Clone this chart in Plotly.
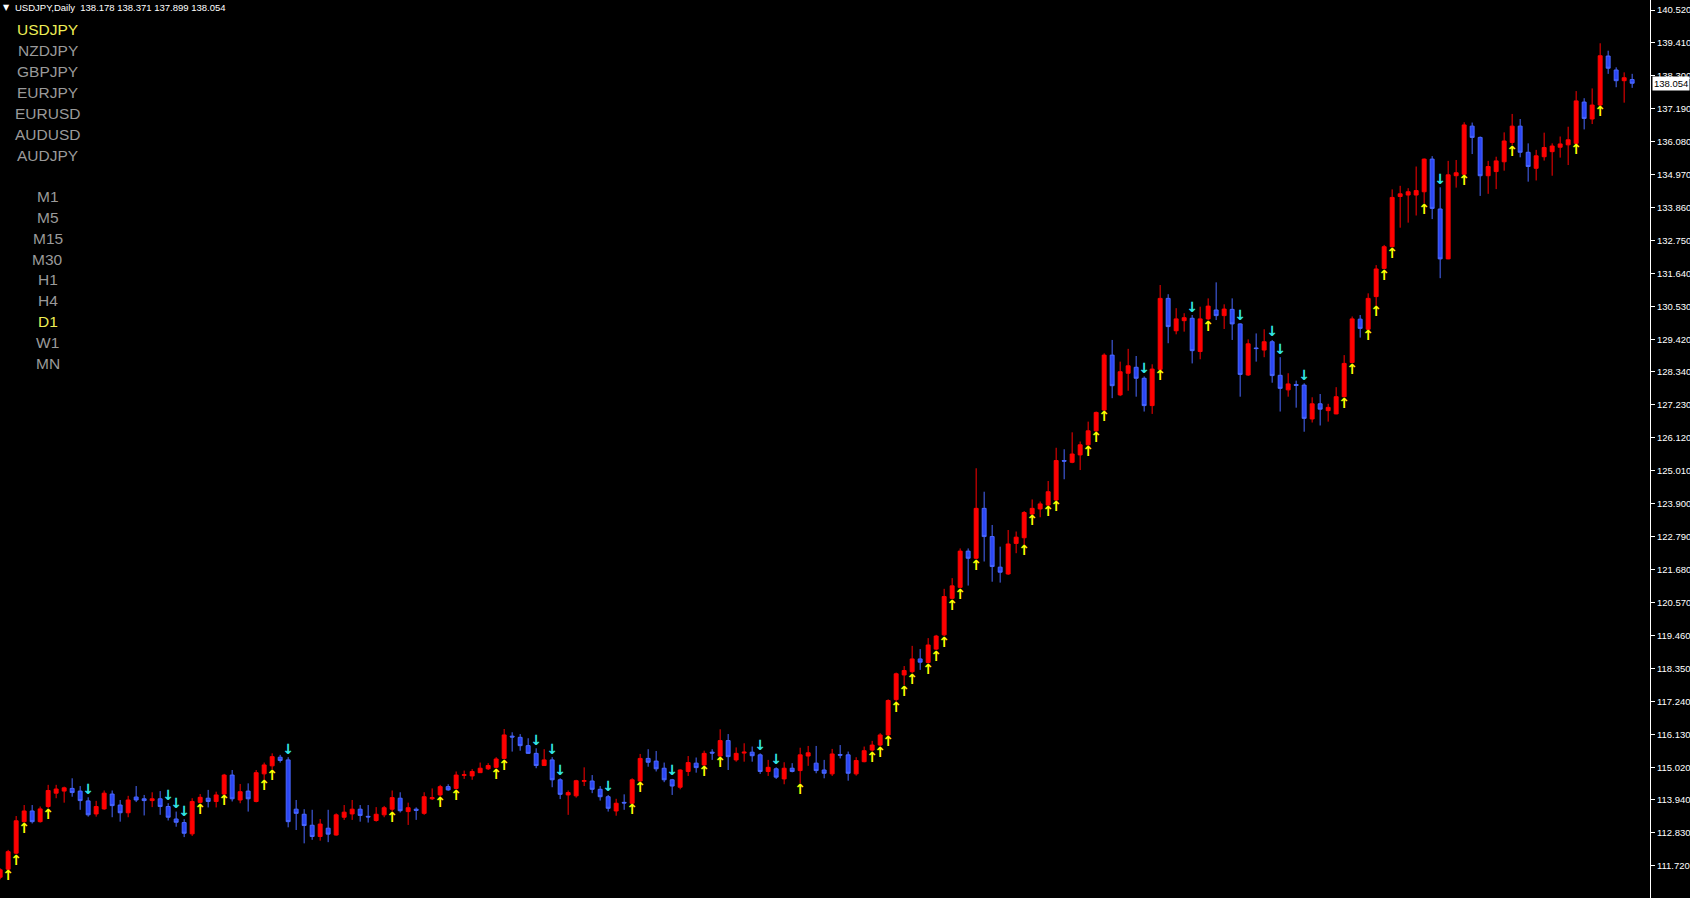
import plotly.graph_objects as go

# ---------------- data (USDJPY, Daily) ----------------
opens = [111.32, 111.59, 112.13, 113.19, 113.55, 113.19, 113.70, 114.15, 114.22, 114.31,
         114.22, 113.89, 113.45, 113.62, 114.12, 113.75, 113.49, 114.02, 113.96, 113.90,
         113.96, 113.70, 113.28, 113.16, 112.78, 113.84, 113.98, 113.87, 114.12, 114.76,
         113.92, 114.22, 113.87, 114.80, 115.07, 115.36, 115.27, 113.61, 113.44, 113.07,
         112.69, 112.97, 112.74, 113.34, 113.45, 113.61, 113.37, 113.23, 113.42, 113.61,
         113.98, 113.53, 113.61, 113.47, 113.96, 114.09, 114.37, 114.31, 114.75, 114.73,
         114.84, 114.97, 115.02, 115.32, 116.07, 116.03, 115.75, 115.49, 115.08, 115.27,
         114.60, 114.09, 114.06, 114.55, 114.56, 114.28, 114.03, 113.55, 113.84, 113.81,
         114.56, 115.32, 115.23, 114.99, 114.60, 114.35, 114.88, 115.16, 115.10, 115.53,
         115.40, 115.92, 115.27, 115.50, 115.53, 115.44, 114.88, 114.97, 114.63, 114.99,
         114.91, 115.40, 115.16, 114.93, 114.80, 115.45, 115.44, 114.80, 115.21, 115.60,
         115.77, 116.11, 117.30, 118.13, 118.24, 118.67, 118.55, 119.00, 119.48, 120.71,
         121.08, 122.30, 122.06, 123.74, 122.79, 121.76, 121.53, 122.56, 122.75, 123.55,
         123.72, 123.85, 124.02, 125.35, 125.29, 125.54, 125.88, 126.35, 127.05, 128.90,
         127.56, 128.29, 128.49, 128.12, 127.20, 128.42, 130.81, 129.72, 130.06, 130.14,
         129.02, 130.12, 130.42, 130.23, 130.44, 129.95, 128.23, 129.14, 129.07, 129.35,
         128.22, 127.73, 127.91, 127.89, 126.75, 127.26, 127.03, 126.92, 127.50, 128.65,
         130.11, 129.77, 130.87, 131.82, 132.55, 134.24, 134.29, 134.29, 134.40, 135.50,
         133.82, 132.14, 134.94, 134.99, 136.61, 136.23, 134.94, 135.08, 135.41, 136.06,
         136.61, 135.73, 135.19, 135.58, 135.75, 135.90, 135.98, 136.03, 137.42, 136.85,
         137.32, 138.97, 138.50, 138.14, 138.178]
highs = [111.62, 112.24, 113.38, 113.75, 113.75, 113.70, 114.43, 114.43, 114.37, 114.65,
         114.39, 114.01, 113.89, 114.24, 114.24, 113.92, 114.06, 114.39, 114.09, 114.18,
         114.22, 113.81, 113.53, 113.27, 113.98, 114.12, 114.26, 114.20, 114.80, 114.93,
         114.46, 114.48, 114.93, 115.18, 115.49, 115.44, 115.36, 113.92, 113.61, 113.59,
         113.28, 113.59, 113.47, 113.75, 113.92, 113.75, 113.75, 113.68, 113.72, 114.24,
         114.18, 113.83, 113.67, 114.18, 114.31, 114.43, 114.45, 114.88, 114.91, 114.96,
         115.18, 115.16, 115.36, 116.31, 116.20, 116.14, 116.00, 115.66, 115.63, 115.36,
         114.65, 114.24, 114.60, 115.02, 114.76, 114.39, 114.09, 113.96, 114.11, 114.65,
         115.47, 115.63, 115.57, 115.18, 114.63, 114.95, 115.40, 115.35, 115.58, 115.63,
         116.30, 116.14, 115.69, 115.83, 115.72, 115.49, 115.27, 115.02, 115.19, 115.16,
         115.68, 115.74, 115.74, 115.27, 115.64, 115.77, 115.55, 115.36, 115.72, 115.91,
         116.17, 117.31, 118.21, 118.43, 119.11, 119.00, 119.37, 119.48, 121.03, 121.39,
         122.39, 122.39, 125.09, 124.30, 123.18, 122.45, 123.01, 122.96, 123.65, 124.04,
         123.97, 124.66, 125.78, 125.73, 126.30, 125.99, 126.66, 127.00, 128.96, 129.41,
         128.68, 129.11, 128.87, 128.18, 128.59, 131.26, 130.95, 130.48, 130.31, 130.25,
         130.53, 130.81, 131.35, 130.61, 130.81, 129.97, 129.43, 129.63, 129.77, 129.41,
         128.83, 128.29, 128.04, 127.95, 127.48, 127.59, 127.26, 127.82, 128.90, 130.20,
         130.25, 130.98, 131.93, 132.61, 134.48, 134.60, 134.52, 135.25, 135.52, 135.60,
         134.55, 135.44, 135.47, 136.74, 136.73, 136.26, 135.44, 135.58, 136.40, 137.02,
         136.85, 136.03, 135.81, 136.39, 136.03, 136.26, 136.59, 137.79, 137.55, 137.88,
         139.40, 139.15, 138.59, 138.42, 138.371]
lows = [111.25, 111.57, 112.10, 113.16, 113.13, 113.16, 113.64, 113.98, 113.83, 114.03,
        113.59, 113.36, 113.36, 113.59, 113.34, 113.19, 113.34, 113.85, 113.40, 113.68,
        113.42, 113.23, 113.02, 112.67, 112.71, 113.81, 113.67, 113.67, 114.09, 113.87,
        113.81, 113.53, 113.84, 114.60, 114.95, 115.18, 113.00, 112.91, 112.46, 112.58,
        112.55, 112.50, 112.72, 113.25, 113.25, 113.19, 113.16, 113.19, 113.34, 113.53,
        113.50, 113.08, 113.25, 113.42, 113.92, 114.03, 114.23, 114.28, 114.63, 114.60,
        114.84, 114.93, 114.99, 115.29, 115.55, 115.58, 115.47, 114.99, 115.08, 114.35,
        113.95, 113.42, 114.00, 114.39, 114.15, 113.90, 113.53, 113.39, 113.59, 113.79,
        114.54, 115.04, 114.88, 114.52, 114.09, 114.28, 114.73, 114.84, 115.08, 115.27,
        115.38, 114.93, 115.21, 115.21, 115.21, 114.80, 114.73, 114.63, 114.45, 114.85,
        114.48, 115.07, 114.82, 114.65, 114.73, 115.32, 114.57, 114.74, 115.19, 115.55,
        115.72, 116.08, 117.23, 117.79, 118.19, 118.30, 118.52, 118.97, 119.44, 120.68,
        121.05, 121.14, 122.03, 121.95, 121.27, 121.24, 121.50, 122.23, 122.51, 123.52,
        123.44, 123.83, 124.00, 124.72, 125.26, 125.03, 125.85, 126.32, 127.03, 127.45,
        127.52, 127.70, 127.50, 127.00, 126.92, 128.40, 129.30, 129.60, 129.69, 128.62,
        128.76, 130.08, 130.08, 129.78, 129.41, 127.50, 128.20, 128.68, 128.83, 127.97,
        127.00, 127.50, 127.13, 126.32, 126.63, 126.53, 126.66, 126.91, 127.48, 128.62,
        129.49, 129.75, 130.56, 131.79, 132.53, 133.19, 133.36, 133.60, 134.01, 133.48,
        131.49, 132.13, 134.54, 134.97, 135.67, 134.26, 134.33, 134.49, 135.11, 135.97,
        135.56, 134.74, 134.78, 135.45, 134.94, 135.55, 135.30, 136.01, 136.50, 136.68,
        137.29, 138.37, 137.92, 137.40, 137.899]
closes = [111.57, 112.18, 113.22, 113.55, 113.19, 113.62, 114.24, 114.29, 114.33, 114.17,
          113.90, 113.42, 113.70, 114.15, 113.73, 113.49, 113.92, 113.92, 113.90, 113.96,
          113.70, 113.34, 113.17, 112.80, 113.87, 114.01, 113.87, 114.09, 114.76, 113.96,
          114.20, 113.96, 114.84, 115.10, 115.38, 115.25, 113.19, 113.47, 113.06, 112.69,
          113.11, 112.77, 113.42, 113.51, 113.61, 113.40, 113.35, 113.44, 113.66, 114.00,
          113.56, 113.66, 113.57, 114.03, 114.00, 114.37, 114.26, 114.76, 114.77, 114.88,
          114.99, 115.08, 115.30, 116.11, 116.04, 115.75, 115.49, 115.08, 115.27, 114.60,
          114.11, 114.17, 114.57, 114.57, 114.28, 114.03, 113.64, 113.81, 113.82, 114.60,
          115.32, 115.19, 114.97, 114.60, 114.39, 114.93, 115.18, 115.01, 115.49, 115.50,
          115.92, 115.38, 115.49, 115.53, 115.41, 114.88, 115.02, 114.69, 114.99, 114.88,
          115.44, 115.51, 114.91, 114.82, 115.47, 115.43, 114.82, 115.25, 115.58, 115.77,
          116.11, 117.27, 118.17, 118.28, 118.67, 118.56, 119.14, 119.44, 120.77, 121.13,
          122.30, 122.06, 123.74, 122.79, 121.78, 121.59, 122.54, 122.77, 123.60, 123.74,
          123.89, 124.30, 125.35, 125.33, 125.57, 125.88, 126.35, 126.97, 128.90, 127.87,
          128.34, 128.54, 128.12, 127.20, 128.43, 130.81, 129.86, 130.12, 130.16, 129.05,
          130.12, 130.55, 130.23, 130.45, 129.95, 128.25, 129.28, 129.12, 129.35, 128.21,
          127.78, 127.93, 127.88, 126.77, 127.26, 127.08, 127.14, 127.50, 128.62, 130.12,
          129.80, 130.81, 131.80, 132.55, 134.21, 134.33, 134.40, 134.44, 135.50, 133.84,
          132.14, 134.97, 135.04, 136.65, 136.23, 134.94, 135.25, 135.44, 136.11, 136.61,
          135.73, 135.25, 135.61, 135.89, 135.94, 136.01, 136.15, 137.46, 136.87, 137.32,
          138.98, 138.56, 138.14, 138.24, 138.054]

# bar indices carrying a buy (yellow up) / sell (cyan down) signal arrow
up_signals = [1, 2, 3, 6, 25, 28, 33, 34, 49, 55, 57, 62, 63, 79, 80, 88, 90, 100, 109, 110,
              111, 112, 113, 114, 116, 117, 118, 119, 120, 122, 128, 129, 131, 132, 136, 137,
              138, 145, 151, 168, 169, 171, 172, 173, 174, 178, 183, 189, 197, 200]
down_signals = [11, 21, 22, 23, 36, 67, 69, 70, 76, 84, 95, 97, 143, 149, 155, 159, 160, 163, 180]

price_ticks = ["140.520", "139.410", "138.300", "137.190", "136.080", "134.970", "133.860",
               "132.750", "131.640", "130.530", "129.420", "128.340", "127.230", "126.120",
               "125.010", "123.900", "122.790", "121.680", "120.570", "119.460", "118.350",
               "117.240", "116.130", "115.020", "113.940", "112.830", "111.720"]

symbols = ["USDJPY", "NZDJPY", "GBPJPY", "EURJPY", "EURUSD", "AUDUSD", "AUDJPY"]
timeframes = ["M1", "M5", "M15", "M30", "H1", "H4", "D1", "W1", "MN"]
active_symbol = "USDJPY"
active_tf = "D1"
header_text = "USDJPY,Daily\u00a0\u00a0138.178 138.371 137.899 138.054"
last_price_text = "138.054"

# ---------------- figure ----------------
W, H = 1690, 898
AXIS_X = 1650
BAR_PX = 8
Y_TOP, Y_BOTTOM = 140.857, 110.62

xs = list(range(len(opens)))

fig = go.Figure()
fig.add_trace(go.Candlestick(
    x=xs, open=opens, high=highs, low=lows, close=closes,
    increasing=dict(line=dict(color="#ff0000", width=1), fillcolor="#ff0000"),
    decreasing=dict(line=dict(color="#4a68ff", width=1), fillcolor="#2b46f5"),
    whiskerwidth=0, hoverinfo="skip", showlegend=False,
))

fig.add_trace(go.Scatter(
    x=up_signals, y=[lows[i] for i in up_signals], mode="text",
    text=["\u2191"] * len(up_signals), textposition="bottom center",
    textfont=dict(color="#ffff00", size=14, family="DejaVu Sans", weight="bold"),
    hoverinfo="skip", showlegend=False,
))
fig.add_trace(go.Scatter(
    x=down_signals, y=[highs[i] for i in down_signals], mode="text",
    text=["\u2193"] * len(down_signals), textposition="top center",
    textfont=dict(color="#33e6e6", size=14, family="DejaVu Sans", weight="bold"),
    hoverinfo="skip", showlegend=False,
))

annotations = []
# header
annotations.append(dict(x=6.5 / W, y=1 - 7.3 / H, xref="paper", yref="paper", text="\u25bc",
                        showarrow=False, xanchor="center", yanchor="middle",
                        font=dict(color="white", size=8, family="DejaVu Sans")))
annotations.append(dict(x=13 / W, y=1 - 7.3 / H, xref="paper", yref="paper", text=header_text,
                        showarrow=False, xanchor="left", yanchor="middle",
                        font=dict(color="white", size=9.5, family="Liberation Sans")))
# symbol and timeframe menu
ROW = 20.9
for j, s in enumerate(symbols):
    annotations.append(dict(x=47.5 / W, y=1 - (29.8 + j * ROW) / H, xref="paper", yref="paper",
                            text=s, showarrow=False, xanchor="center", yanchor="middle",
                            font=dict(color="#eeee55" if s == active_symbol else "#9a9a9a",
                                      size=15.5, family="Liberation Sans")))
for j, t in enumerate(timeframes):
    annotations.append(dict(x=47.5 / W, y=1 - (196.3 + j * ROW) / H, xref="paper", yref="paper",
                            text=t, showarrow=False, xanchor="center", yanchor="middle",
                            font=dict(color="#eeee55" if t == active_tf else "#9a9a9a",
                                      size=15.5, family="Liberation Sans")))
# current price box
annotations.append(dict(x=(AXIS_X + 2) / W, y=float(last_price_text), xref="paper", yref="y",
                        text=last_price_text, showarrow=False, xanchor="left", yanchor="middle",
                        bgcolor="white", borderpad=1,
                        font=dict(color="black", size=9.5, family="Liberation Sans")))

fig.update_layout(
    width=W, height=H,
    margin=dict(l=0, r=0, t=0, b=0),
    paper_bgcolor="black", plot_bgcolor="black",
    annotations=annotations,
    xaxis=dict(domain=[0, AXIS_X / W], range=[-0.02, -0.02 + AXIS_X / BAR_PX],
               visible=False, rangeslider=dict(visible=False), fixedrange=True),
    yaxis=dict(side="right", range=[Y_BOTTOM, Y_TOP],
               tickvals=[float(t) for t in price_ticks], ticktext=price_ticks,
               showgrid=False, zeroline=False, showline=True, linecolor="white", linewidth=1,
               ticks="outside", ticklen=4, tickcolor="white", tickwidth=1,
               tickfont=dict(color="white", size=9.5, family="Liberation Sans"),
               fixedrange=True),
    showlegend=False,
)

fig.write_html(
    "out.html",
    config={"displayModeBar": False, "staticPlot": True},
    post_script="document.body.style.margin='0';document.body.style.background='black';"
                "document.body.style.overflow='hidden';",
)
